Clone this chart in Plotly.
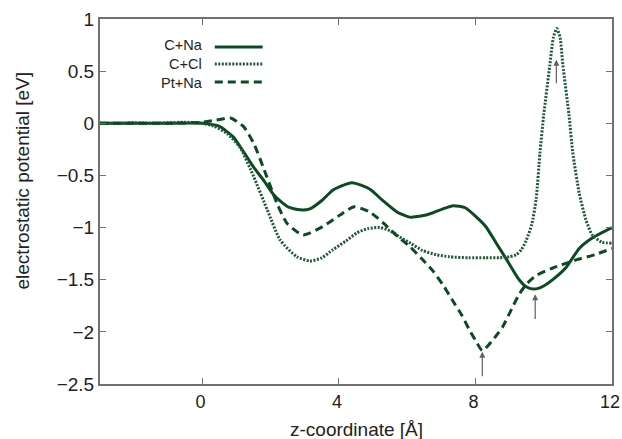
import plotly.graph_objects as go

# ---- data ----
cna_x = [-3, -2, -1, 0, 0.5, 0.9, 1.1, 1.5, 1.8, 2.1, 2.5, 2.86, 3.15, 3.5, 3.83, 4.38,
         4.9, 5.28, 5.7, 6.07, 6.4, 6.74, 7.05, 7.35, 7.7, 8.03, 8.3, 8.61, 8.9, 9.28,
         9.5, 9.72, 10.0, 10.3, 10.66, 11.04, 11.42, 12]
cna_y = [0, 0, 0, 0, -0.03, -0.13, -0.22, -0.42, -0.55, -0.69, -0.80, -0.83, -0.82, -0.74,
         -0.64, -0.57, -0.63, -0.74, -0.85, -0.90, -0.89, -0.86, -0.82, -0.79, -0.81, -0.90,
         -0.99, -1.15, -1.30, -1.50, -1.57, -1.59, -1.56, -1.49, -1.38, -1.20, -1.10, -1.00]

ccl_x = [-3, -2.5, -2, -1.5, -1, -0.5, 0, 0.35, 0.73, 1.1, 1.5, 1.9, 2.28, 2.77, 3.15,
         3.5, 3.83, 4.2, 4.53, 4.85, 5.2, 5.5, 5.78, 6.1, 6.45, 6.85, 7.24, 7.8, 8.3,
         8.7, 9.0, 9.2, 9.35, 9.49, 9.65, 9.78, 9.89, 10.0, 10.18, 10.28, 10.38, 10.48,
         10.56, 10.74, 10.85, 11.04, 11.24, 11.42, 11.7, 12]
ccl_y = [0, 0, 0.005, 0, 0.005, 0.01, 0, -0.03, -0.10, -0.23, -0.51, -0.83, -1.12, -1.28,
         -1.32, -1.29, -1.21, -1.13, -1.05, -1.01, -1.00, -1.03, -1.09, -1.15, -1.22,
         -1.26, -1.28, -1.29, -1.29, -1.29, -1.28, -1.26, -1.21, -1.12, -0.97, -0.72,
         -0.28, 0.08, 0.56, 0.82, 0.91, 0.82, 0.56, 0.08, -0.28, -0.67, -0.93, -1.07,
         -1.14, -1.15]

ptna_x = [-3, -2, -1, 0, 0.4, 0.82, 1.2, 1.5, 1.78, 2.19, 2.48, 2.95, 3.53, 4.03, 4.45,
          4.9, 5.28, 5.7, 6.07, 6.4, 6.74, 7.05, 7.33, 7.6, 7.82, 8.0, 8.2, 8.4, 8.6,
          8.8, 9.0, 9.28, 9.5, 9.78, 10.25, 10.95, 11.5, 12]
ptna_y = [0, 0, 0, 0.01, 0.03, 0.05, -0.03, -0.19, -0.42, -0.77, -0.96, -1.07, -0.99,
          -0.88, -0.80, -0.85, -0.95, -1.08, -1.18, -1.29, -1.41, -1.55, -1.70, -1.84,
          -1.98, -2.08, -2.18, -2.12, -2.04, -1.95, -1.82, -1.64, -1.54, -1.46, -1.39,
          -1.31, -1.26, -1.20]

series_names = ["C+Na", "C+Cl", "Pt+Na"]

arrow_x = [10.37, 8.2, 9.75]
arrow_tip_y = [0.61, -2.19, -1.64]
arrow_tail_y = [0.37, -2.44, -1.89]

x_ticks = [0, 4, 8, 12]
y_ticks = [-2.5, -2, -1.5, -1, -0.5, 0, 0.5, 1]

# ---- styling ----
GREEN = "#0c4a24"
FRAME = "#707070"
FONT = "Liberation Sans, Arial, sans-serif"
styles = [
    dict(color=GREEN, width=3, dash="solid"),
    dict(color="#1f5a34", width=3, dash="2px,1.5px"),
    dict(color=GREEN, width=3, dash="8px,5px"),
]

fig = go.Figure()
for (xs, ys), name, st in zip([(cna_x, cna_y), (ccl_x, ccl_y), (ptna_x, ptna_y)],
                              series_names, styles):
    fig.add_trace(go.Scatter(x=xs, y=ys, mode="lines", name=name,
                             line=dict(shape="spline", smoothing=0.6, **st),
                             showlegend=False, cliponaxis=True))

# arrows
for ax_, tip, tail in zip(arrow_x, arrow_tip_y, arrow_tail_y):
    fig.add_annotation(x=ax_, y=tip, ax=ax_, ay=tail, xref="x", yref="y",
                       axref="x", ayref="y", text="", showarrow=True,
                       arrowhead=2, arrowsize=1.0, arrowwidth=1.2,
                       arrowcolor="#606060")

# custom legend (text left, line sample right)
leg_y = [0.9233, 0.8767, 0.8274]
fig.add_annotation(x=0.2047, y=leg_y[1], xref="paper", yref="paper",
                   text="<br>".join(series_names), showarrow=False,
                   xanchor="right", yanchor="middle", align="right",
                   font=dict(family=FONT, size=14.5, color="#222"))
for st, yy in zip(styles, leg_y):
    fig.add_shape(type="line", xref="paper", yref="paper", x0=0.2242, x1=0.3177,
                  y0=yy, y1=yy, line=st)

# axis titles
fig.add_annotation(x=0.5, y=-0.125, xref="paper", yref="paper",
                   text="z-coordinate [Å]", showarrow=False,
                   xanchor="center", yanchor="middle",
                   font=dict(family=FONT, size=19, color="#222"))
fig.add_annotation(x=-0.152, y=0.558, xref="paper", yref="paper",
                   text="electrostatic potential [eV]", showarrow=False,
                   textangle=-90, xanchor="center", yanchor="middle",
                   font=dict(family=FONT, size=19, color="#222"))

axis_common = dict(showgrid=False, zeroline=False, showline=True, linecolor=FRAME,
                   linewidth=2, mirror="allticks", ticks="inside", ticklen=6,
                   tickwidth=1, tickcolor=FRAME, automargin=False,
                   ticklabeloverflow="allow")
fig.update_xaxes(range=[-3, 12], tickvals=x_ticks, ticklabelshift=-2,
                 tickfont=dict(family=FONT, size=18, color="#222"), **axis_common)
fig.update_yaxes(range=[-2.5, 1], tickvals=y_ticks,
                 tickfont=dict(family=FONT, size=19, color="#222"), **axis_common)

fig.update_layout(width=622, height=439, margin=dict(l=100, r=10, t=19, b=55, autoexpand=False),
                  plot_bgcolor="white", paper_bgcolor="white",
                  font=dict(family=FONT, color="#222"))

fig.write_html("out.html")
